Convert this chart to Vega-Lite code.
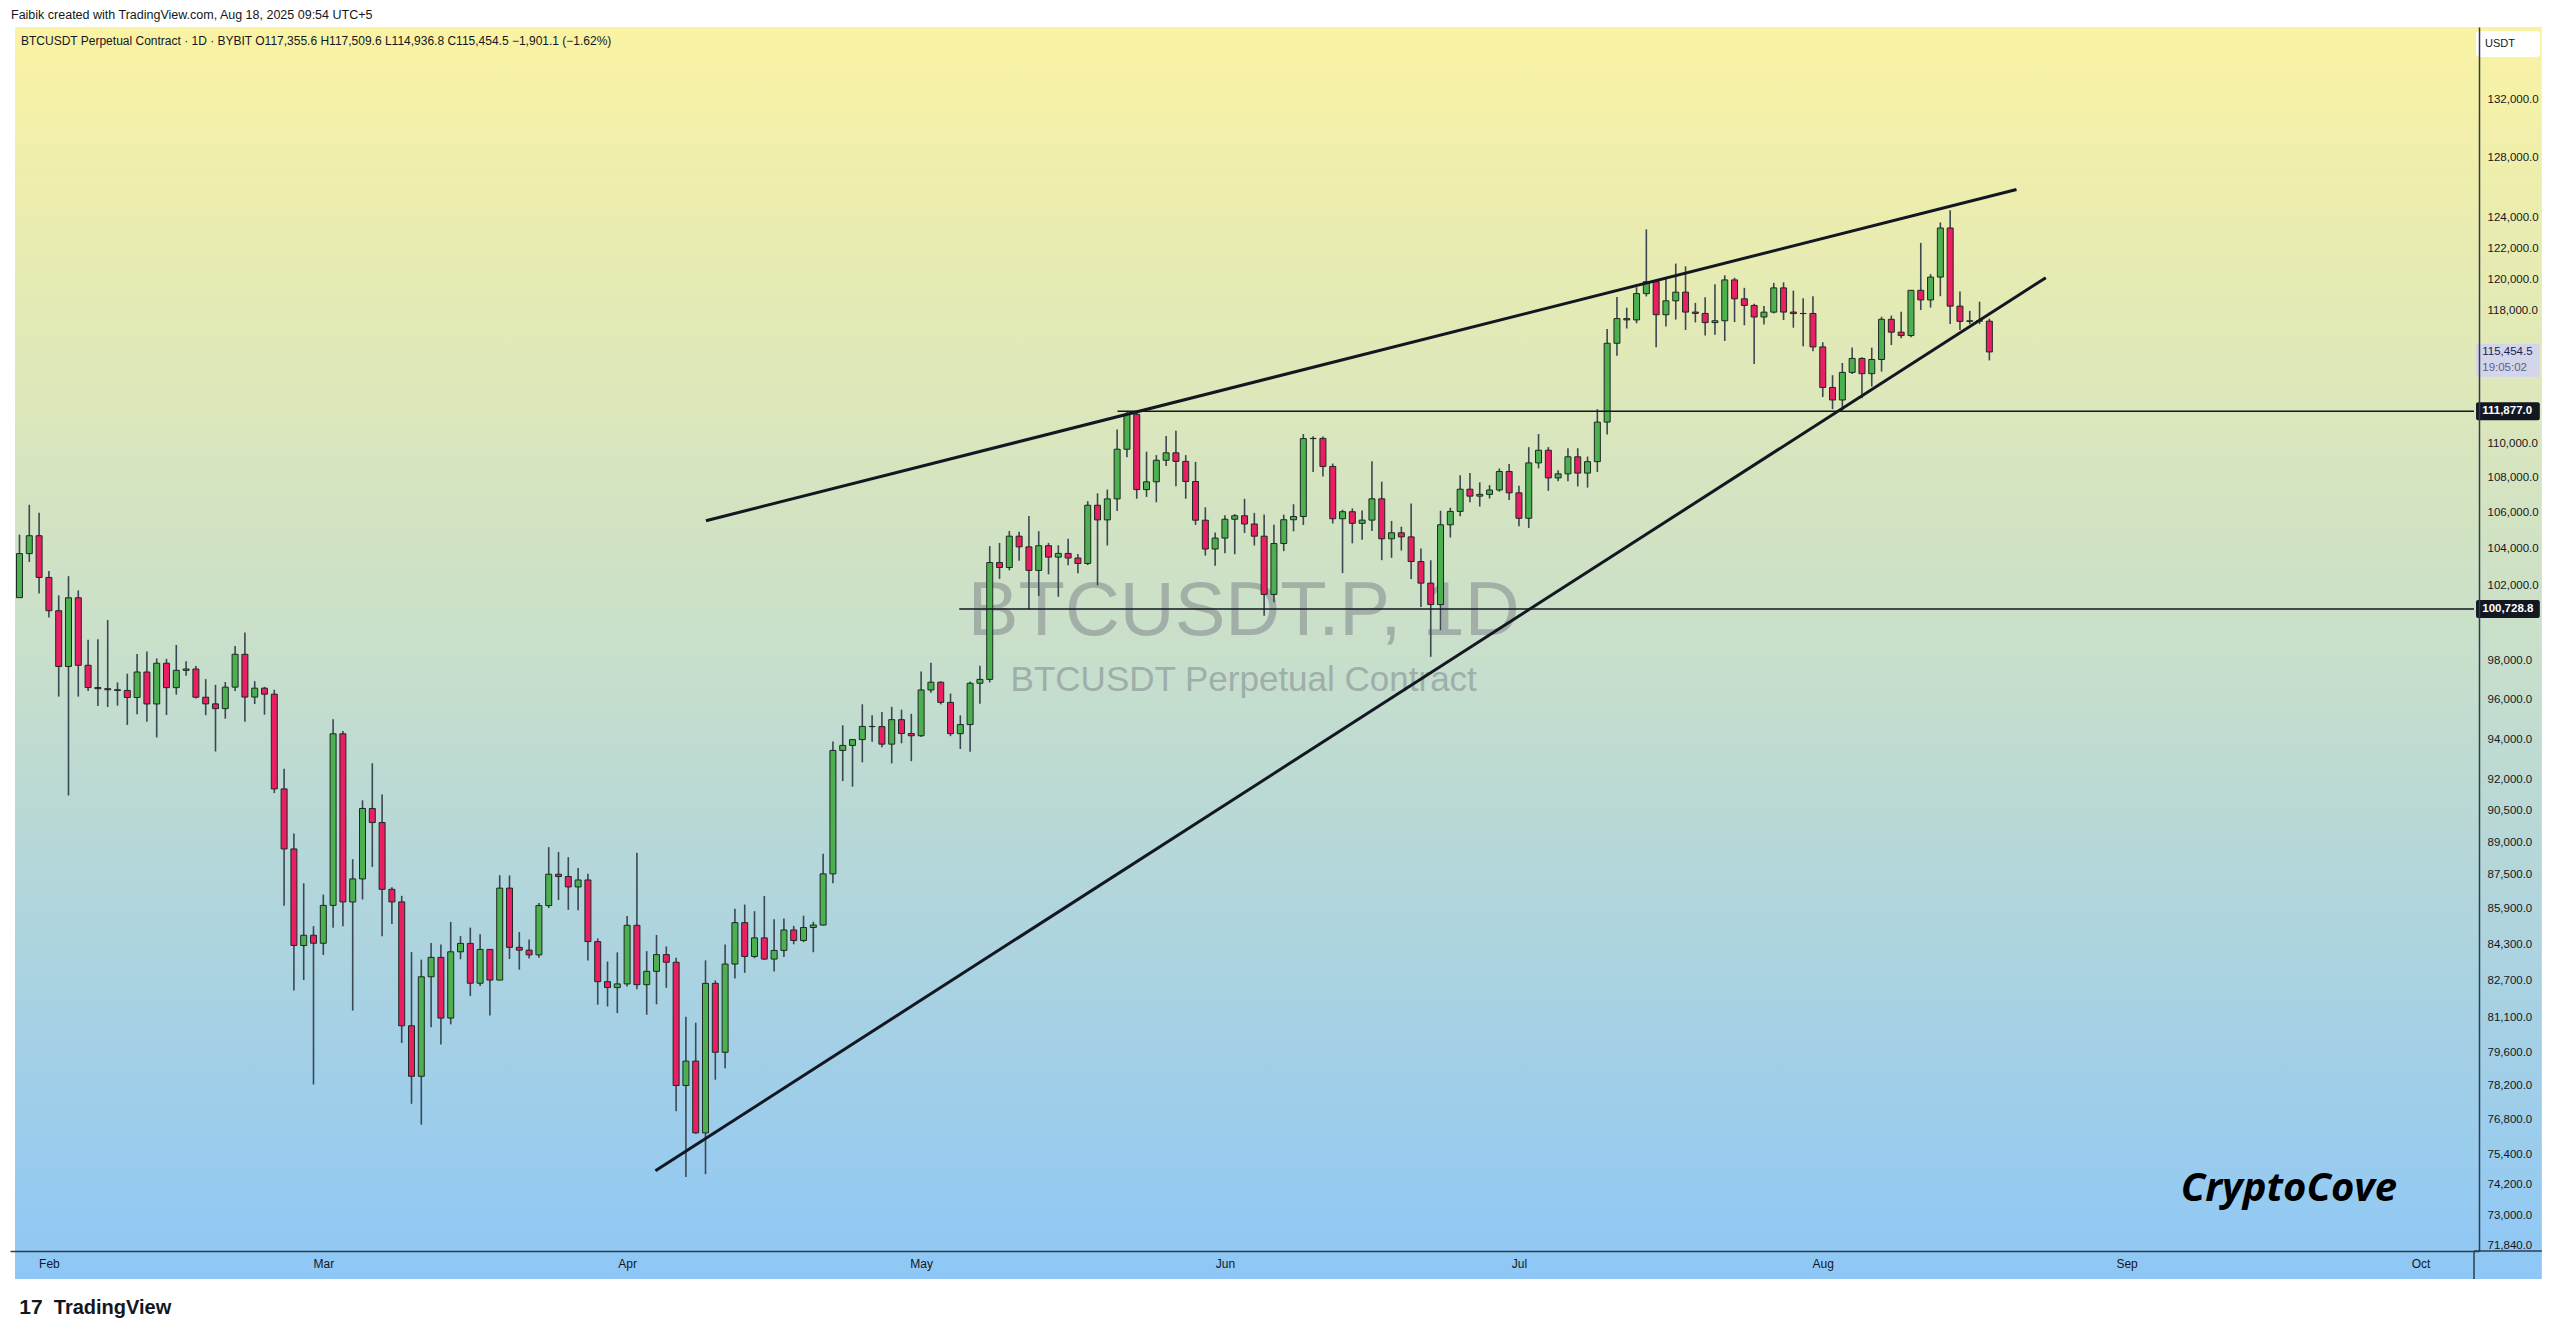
{
  "$schema": "https://vega.github.io/schema/vega-lite/v6.json",
  "width": 2469,
  "height": 1224,
  "autosize": {"type": "none"},
  "padding": {"left": 10, "top": 27, "right": 81, "bottom": 88},
  "background": "#ffffff",
  "title": {"text": "Faibik created with TradingView.com, Aug 18, 2025 09:54 UTC+5", "anchor": "start", "frame": "group", "fontSize": 12.5, "fontWeight": "normal", "color": "#131722", "offset": 6, "dx": 1},
  "datasets": {
    "candles": [
      {"d":"2025-01-29","o":101335,"h":104782,"l":101328,"c":103733},
      {"d":"2025-01-30","o":103733,"h":106457,"l":103278,"c":104722},
      {"d":"2025-01-31","o":104722,"h":106012,"l":101560,"c":102429},
      {"d":"2025-02-01","o":102429,"h":102783,"l":100279,"c":100635},
      {"d":"2025-02-02","o":100635,"h":101456,"l":96150,"c":97700},
      {"d":"2025-02-03","o":97700,"h":102500,"l":91231,"c":101328},
      {"d":"2025-02-04","o":101328,"h":101729,"l":96150,"c":97763},
      {"d":"2025-02-05","o":97763,"h":99100,"l":96431,"c":96612},
      {"d":"2025-02-06","o":96612,"h":99120,"l":95676,"c":96555},
      {"d":"2025-02-07","o":96555,"h":100137,"l":95620,"c":96500},
      {"d":"2025-02-08","o":96500,"h":96880,"l":95688,"c":96465},
      {"d":"2025-02-09","o":96465,"h":97323,"l":94713,"c":96104},
      {"d":"2025-02-10","o":96104,"h":98345,"l":95256,"c":97413},
      {"d":"2025-02-11","o":97413,"h":98478,"l":94876,"c":95776},
      {"d":"2025-02-12","o":95776,"h":98119,"l":94088,"c":97870},
      {"d":"2025-02-13","o":97870,"h":98095,"l":95217,"c":96608},
      {"d":"2025-02-14","o":96608,"h":98826,"l":96252,"c":97500},
      {"d":"2025-02-15","o":97500,"h":97972,"l":97223,"c":97569},
      {"d":"2025-02-16","o":97569,"h":97725,"l":96053,"c":96118},
      {"d":"2025-02-17","o":96118,"h":97046,"l":95205,"c":95780},
      {"d":"2025-02-18","o":95780,"h":96753,"l":93388,"c":95539},
      {"d":"2025-02-19","o":95539,"h":96899,"l":95030,"c":96635},
      {"d":"2025-02-20","o":96635,"h":98766,"l":96437,"c":98334},
      {"d":"2025-02-21","o":98334,"h":99475,"l":94871,"c":96126},
      {"d":"2025-02-22","o":96126,"h":96943,"l":95771,"c":96581},
      {"d":"2025-02-23","o":96581,"h":96650,"l":95229,"c":96274},
      {"d":"2025-02-24","o":96274,"h":96500,"l":91349,"c":91552},
      {"d":"2025-02-25","o":91552,"h":92541,"l":86050,"c":88680},
      {"d":"2025-02-26","o":88680,"h":89414,"l":82256,"c":84250},
      {"d":"2025-02-27","o":84250,"h":87078,"l":82716,"c":84708},
      {"d":"2025-02-28","o":84708,"h":85121,"l":78258,"c":84350},
      {"d":"2025-03-01","o":84350,"h":86558,"l":83824,"c":86064},
      {"d":"2025-03-02","o":86064,"h":95000,"l":85050,"c":94270},
      {"d":"2025-03-03","o":94270,"h":94416,"l":85117,"c":86220},
      {"d":"2025-03-04","o":86220,"h":88200,"l":81390,"c":87282},
      {"d":"2025-03-05","o":87282,"h":91000,"l":86335,"c":90606},
      {"d":"2025-03-06","o":90606,"h":92810,"l":87836,"c":89931},
      {"d":"2025-03-07","o":89931,"h":91283,"l":84667,"c":86801},
      {"d":"2025-03-08","o":86801,"h":86897,"l":85218,"c":86222},
      {"d":"2025-03-09","o":86222,"h":86500,"l":80000,"c":80735},
      {"d":"2025-03-10","o":80735,"h":83955,"l":77459,"c":78600},
      {"d":"2025-03-11","o":78600,"h":83617,"l":76606,"c":82862},
      {"d":"2025-03-12","o":82862,"h":84359,"l":80667,"c":83722},
      {"d":"2025-03-13","o":83722,"h":84300,"l":79939,"c":81066},
      {"d":"2025-03-14","o":81066,"h":85310,"l":80797,"c":83969},
      {"d":"2025-03-15","o":83969,"h":84672,"l":83639,"c":84343},
      {"d":"2025-03-16","o":84343,"h":85053,"l":82017,"c":82579},
      {"d":"2025-03-17","o":82579,"h":84757,"l":82457,"c":84075},
      {"d":"2025-03-18","o":84075,"h":84075,"l":81180,"c":82718},
      {"d":"2025-03-19","o":82718,"h":87454,"l":82715,"c":86854},
      {"d":"2025-03-20","o":86854,"h":87443,"l":83647,"c":84167},
      {"d":"2025-03-21","o":84167,"h":84850,"l":83175,"c":84043},
      {"d":"2025-03-22","o":84043,"h":84513,"l":83674,"c":83832},
      {"d":"2025-03-23","o":83832,"h":86176,"l":83702,"c":86054},
      {"d":"2025-03-24","o":86054,"h":88765,"l":85942,"c":87498},
      {"d":"2025-03-25","o":87498,"h":88542,"l":86310,"c":87392},
      {"d":"2025-03-26","o":87392,"h":88292,"l":85860,"c":86910},
      {"d":"2025-03-27","o":86910,"h":87786,"l":85837,"c":87232},
      {"d":"2025-03-28","o":87232,"h":87515,"l":83585,"c":84424},
      {"d":"2025-03-29","o":84424,"h":84567,"l":81644,"c":82648},
      {"d":"2025-03-30","o":82648,"h":83534,"l":81565,"c":82390},
      {"d":"2025-03-31","o":82390,"h":83943,"l":81278,"c":82550},
      {"d":"2025-04-01","o":82550,"h":85579,"l":82432,"c":85158},
      {"d":"2025-04-02","o":85158,"h":88500,"l":82320,"c":82516},
      {"d":"2025-04-03","o":82516,"h":83998,"l":81211,"c":83102},
      {"d":"2025-04-04","o":83102,"h":84720,"l":81659,"c":83843},
      {"d":"2025-04-05","o":83843,"h":84207,"l":82377,"c":83504},
      {"d":"2025-04-06","o":83504,"h":83704,"l":77153,"c":78214},
      {"d":"2025-04-07","o":78214,"h":81119,"l":74508,"c":79235},
      {"d":"2025-04-08","o":79235,"h":80867,"l":76239,"c":76272},
      {"d":"2025-04-09","o":76272,"h":83588,"l":74620,"c":82574},
      {"d":"2025-04-10","o":82574,"h":82700,"l":78456,"c":79607},
      {"d":"2025-04-11","o":79607,"h":84300,"l":78936,"c":83424},
      {"d":"2025-04-12","o":83424,"h":85905,"l":82792,"c":85277},
      {"d":"2025-04-13","o":85277,"h":86100,"l":83034,"c":83760},
      {"d":"2025-04-14","o":83760,"h":85799,"l":83679,"c":84592},
      {"d":"2025-04-15","o":84592,"h":86496,"l":83600,"c":83644},
      {"d":"2025-04-16","o":83644,"h":85429,"l":83100,"c":84030},
      {"d":"2025-04-17","o":84030,"h":85470,"l":83736,"c":84947},
      {"d":"2025-04-18","o":84947,"h":85132,"l":84303,"c":84474},
      {"d":"2025-04-19","o":84474,"h":85595,"l":84400,"c":85057},
      {"d":"2025-04-20","o":85057,"h":85320,"l":83949,"c":85170},
      {"d":"2025-04-21","o":85170,"h":88460,"l":85144,"c":87516},
      {"d":"2025-04-22","o":87516,"h":93888,"l":87076,"c":93442},
      {"d":"2025-04-23","o":93442,"h":94696,"l":91935,"c":93691},
      {"d":"2025-04-24","o":93691,"h":94000,"l":91660,"c":93980},
      {"d":"2025-04-25","o":93980,"h":95758,"l":92855,"c":94638},
      {"d":"2025-04-26","o":94638,"h":95199,"l":93870,"c":94630},
      {"d":"2025-04-27","o":94630,"h":95369,"l":93602,"c":93754},
      {"d":"2025-04-28","o":93754,"h":95630,"l":92800,"c":94981},
      {"d":"2025-04-29","o":94981,"h":95485,"l":93796,"c":94284},
      {"d":"2025-04-30","o":94284,"h":95275,"l":92910,"c":94172},
      {"d":"2025-05-01","o":94172,"h":97438,"l":94111,"c":96489},
      {"d":"2025-05-02","o":96489,"h":97895,"l":96350,"c":96887},
      {"d":"2025-05-03","o":96887,"h":96935,"l":95753,"c":95856},
      {"d":"2025-05-04","o":95856,"h":96304,"l":94151,"c":94277},
      {"d":"2025-05-05","o":94277,"h":95199,"l":93514,"c":94733},
      {"d":"2025-05-06","o":94733,"h":96920,"l":93377,"c":96834},
      {"d":"2025-05-07","o":96834,"h":97732,"l":95784,"c":97032},
      {"d":"2025-05-08","o":97032,"h":104145,"l":96876,"c":103241},
      {"d":"2025-05-09","o":103241,"h":104324,"l":102350,"c":102971},
      {"d":"2025-05-10","o":102971,"h":104984,"l":102818,"c":104696},
      {"d":"2025-05-11","o":104696,"h":104937,"l":103346,"c":104106},
      {"d":"2025-05-12","o":104106,"h":105819,"l":100719,"c":102812},
      {"d":"2025-05-13","o":102812,"h":104976,"l":101429,"c":104169},
      {"d":"2025-05-14","o":104169,"h":104324,"l":102602,"c":103539},
      {"d":"2025-05-15","o":103539,"h":104192,"l":101383,"c":103744},
      {"d":"2025-05-16","o":103744,"h":104550,"l":103100,"c":103489},
      {"d":"2025-05-17","o":103489,"h":103716,"l":102659,"c":103191},
      {"d":"2025-05-18","o":103191,"h":106660,"l":103105,"c":106430},
      {"d":"2025-05-19","o":106430,"h":107108,"l":102000,"c":105607},
      {"d":"2025-05-20","o":105607,"h":107320,"l":104184,"c":106791},
      {"d":"2025-05-21","o":106791,"h":110797,"l":106100,"c":109643},
      {"d":"2025-05-22","o":109643,"h":111877,"l":109178,"c":111696},
      {"d":"2025-05-23","o":111696,"h":111800,"l":106800,"c":107318},
      {"d":"2025-05-24","o":107318,"h":109500,"l":106900,"c":107762},
      {"d":"2025-05-25","o":107762,"h":109300,"l":106600,"c":109004},
      {"d":"2025-05-26","o":109004,"h":110422,"l":108670,"c":109434},
      {"d":"2025-05-27","o":109434,"h":110718,"l":107516,"c":108938},
      {"d":"2025-05-28","o":108938,"h":109300,"l":106800,"c":107781},
      {"d":"2025-05-29","o":107781,"h":108910,"l":105322,"c":105589},
      {"d":"2025-05-30","o":105589,"h":106313,"l":103621,"c":103985},
      {"d":"2025-05-31","o":103985,"h":104900,"l":103068,"c":104591},
      {"d":"2025-06-01","o":104591,"h":105866,"l":103752,"c":105642},
      {"d":"2025-06-02","o":105642,"h":105935,"l":103700,"c":105837},
      {"d":"2025-06-03","o":105837,"h":106794,"l":104872,"c":105377},
      {"d":"2025-06-04","o":105377,"h":106000,"l":104179,"c":104696},
      {"d":"2025-06-05","o":104696,"h":105909,"l":100372,"c":101509},
      {"d":"2025-06-06","o":101509,"h":105333,"l":101095,"c":104289},
      {"d":"2025-06-07","o":104289,"h":105900,"l":103871,"c":105615},
      {"d":"2025-06-08","o":105615,"h":106488,"l":104964,"c":105794},
      {"d":"2025-06-09","o":105794,"h":110530,"l":105318,"c":110263},
      {"d":"2025-06-10","o":110263,"h":110400,"l":108331,"c":110274},
      {"d":"2025-06-11","o":110274,"h":110392,"l":108064,"c":108645},
      {"d":"2025-06-12","o":108645,"h":108813,"l":105400,"c":105671},
      {"d":"2025-06-13","o":105671,"h":106179,"l":102664,"c":106066},
      {"d":"2025-06-14","o":106066,"h":106252,"l":104300,"c":105414},
      {"d":"2025-06-15","o":105414,"h":106128,"l":104494,"c":105594},
      {"d":"2025-06-16","o":105594,"h":108952,"l":104980,"c":106794},
      {"d":"2025-06-17","o":106794,"h":107771,"l":103371,"c":104551},
      {"d":"2025-06-18","o":104551,"h":105550,"l":103500,"c":104886},
      {"d":"2025-06-19","o":104886,"h":105226,"l":103900,"c":104658},
      {"d":"2025-06-20","o":104658,"h":106524,"l":102345,"c":103297},
      {"d":"2025-06-21","o":103297,"h":104010,"l":100837,"c":102120},
      {"d":"2025-06-22","o":102120,"h":103366,"l":98200,"c":100963},
      {"d":"2025-06-23","o":100963,"h":106122,"l":99600,"c":105333},
      {"d":"2025-06-24","o":105333,"h":106290,"l":104622,"c":106083},
      {"d":"2025-06-25","o":106083,"h":108135,"l":105808,"c":107340},
      {"d":"2025-06-26","o":107340,"h":108272,"l":106600,"c":106947},
      {"d":"2025-06-27","o":106947,"h":107735,"l":106356,"c":107047},
      {"d":"2025-06-28","o":107047,"h":107577,"l":106811,"c":107296},
      {"d":"2025-06-29","o":107296,"h":108528,"l":107200,"c":108356},
      {"d":"2025-06-30","o":108356,"h":108789,"l":106733,"c":107135},
      {"d":"2025-07-01","o":107135,"h":107540,"l":105250,"c":105698},
      {"d":"2025-07-02","o":105698,"h":109763,"l":105157,"c":108850},
      {"d":"2025-07-03","o":108850,"h":110529,"l":108530,"c":109584},
      {"d":"2025-07-04","o":109584,"h":109767,"l":107245,"c":107985},
      {"d":"2025-07-05","o":107985,"h":108420,"l":107800,"c":108220},
      {"d":"2025-07-06","o":108220,"h":109700,"l":107800,"c":109203},
      {"d":"2025-07-07","o":109203,"h":109700,"l":107500,"c":108262},
      {"d":"2025-07-08","o":108262,"h":109216,"l":107429,"c":108922},
      {"d":"2025-07-09","o":108922,"h":111999,"l":108324,"c":111233},
      {"d":"2025-07-10","o":111233,"h":116868,"l":110500,"c":115987},
      {"d":"2025-07-11","o":115987,"h":118869,"l":115222,"c":117516},
      {"d":"2025-07-12","o":117516,"h":118200,"l":116900,"c":117435},
      {"d":"2025-07-13","o":117435,"h":119488,"l":117224,"c":119086},
      {"d":"2025-07-14","o":119086,"h":123218,"l":118905,"c":119841},
      {"d":"2025-07-15","o":119841,"h":119940,"l":115736,"c":117758},
      {"d":"2025-07-16","o":117758,"h":120063,"l":117017,"c":118630},
      {"d":"2025-07-17","o":118630,"h":120998,"l":117453,"c":119177},
      {"d":"2025-07-18","o":119177,"h":120820,"l":116812,"c":117924},
      {"d":"2025-07-19","o":117924,"h":118499,"l":117277,"c":117840},
      {"d":"2025-07-20","o":117840,"h":118856,"l":116467,"c":117265},
      {"d":"2025-07-21","o":117265,"h":119676,"l":116515,"c":117380},
      {"d":"2025-07-22","o":117380,"h":120247,"l":116128,"c":119954},
      {"d":"2025-07-23","o":119954,"h":120090,"l":117301,"c":118756},
      {"d":"2025-07-24","o":118756,"h":119450,"l":117103,"c":118340},
      {"d":"2025-07-25","o":118340,"h":118451,"l":114723,"c":117614},
      {"d":"2025-07-26","o":117614,"h":118300,"l":117151,"c":117920},
      {"d":"2025-07-27","o":117920,"h":119766,"l":117840,"c":119448},
      {"d":"2025-07-28","o":119448,"h":119800,"l":117427,"c":117924},
      {"d":"2025-07-29","o":117924,"h":119273,"l":116950,"c":117831},
      {"d":"2025-07-30","o":117831,"h":118792,"l":115796,"c":117837},
      {"d":"2025-07-31","o":117837,"h":118922,"l":115500,"c":115764},
      {"d":"2025-08-01","o":115764,"h":116052,"l":112722,"c":113298},
      {"d":"2025-08-02","o":113298,"h":114036,"l":112000,"c":112546},
      {"d":"2025-08-03","o":112546,"h":114777,"l":111920,"c":114208},
      {"d":"2025-08-04","o":114208,"h":115720,"l":114103,"c":115055},
      {"d":"2025-08-05","o":115055,"h":115127,"l":112650,"c":114129},
      {"d":"2025-08-06","o":114129,"h":115716,"l":113356,"c":114992},
      {"d":"2025-08-07","o":114992,"h":117632,"l":114259,"c":117472},
      {"d":"2025-08-08","o":117472,"h":117700,"l":115878,"c":116674},
      {"d":"2025-08-09","o":116674,"h":117943,"l":116299,"c":116462},
      {"d":"2025-08-10","o":116462,"h":119311,"l":116353,"c":119294},
      {"d":"2025-08-11","o":119294,"h":122335,"l":118050,"c":118686},
      {"d":"2025-08-12","o":118686,"h":120324,"l":118207,"c":120134},
      {"d":"2025-08-13","o":120134,"h":123667,"l":118920,"c":123306},
      {"d":"2025-08-14","o":123306,"h":124474,"l":117180,"c":118295},
      {"d":"2025-08-15","o":118295,"h":119216,"l":116803,"c":117342},
      {"d":"2025-08-16","o":117342,"h":117999,"l":117172,"c":117380},
      {"d":"2025-08-17","o":117380,"h":118575,"l":117172,"c":117355.6},
      {"d":"2025-08-18","o":117355.6,"h":117509.6,"l":114936.8,"c":115454.5}
    ],
    "lines": [
      {"k":"trend","id":"upper","d":"2025-04-09T01:00:00Z","p":105560},
      {"k":"trend","id":"upper","d":"2025-08-20T18:30:00Z","p":125856},
      {"k":"trend","id":"lower","d":"2025-04-03T21:20:00Z","p":74757},
      {"k":"trend","id":"lower","d":"2025-08-23T18:15:00Z","p":120098},
      {"k":"level","id":"r1","d":"2025-05-21T01:00:00Z","p":111877},
      {"k":"level","id":"r1","d":"2025-10-06T10:50:00Z","p":111877},
      {"k":"level","id":"r2","d":"2025-05-04T21:20:00Z","p":100728.8},
      {"k":"level","id":"r2","d":"2025-10-06T10:50:00Z","p":100728.8}
    ]
  },
  "layer": [
    {
      "data": {"values": [{}]},
      "mark": {"type": "rect", "fill": {"gradient": "linear", "x1": 0, "y1": 0, "x2": 0, "y2": 1, "stops": [{"offset": 0, "color": "#FAF3A3"}, {"offset": 0.5, "color": "#C8DFCB"}, {"offset": 1, "color": "#8EC7F6"}]}},
      "encoding": {
        "x": {"datum": {"year": 2025, "month": 1, "date": 28, "hours": 13, "utc": true}, "type": "temporal", "scale": {"type": "utc", "domain": [{"year": 2025, "month": 1, "date": 28, "hours": 13, "utc": true}, {"year": 2025, "month": 10, "date": 6, "hours": 10, "minutes": 50, "utc": true}], "nice": false}},
        "x2": {"datum": {"year": 2025, "month": 10, "date": 13, "hours": 9, "utc": true}},
        "y": {"datum": 137190, "type": "quantitative", "scale": {"type": "log", "domain": [71637, 137190], "nice": false, "zero": false}},
        "y2": {"datum": 70580}
      }
    },
    {
      "data": {"values": [{}]},
      "mark": {"type": "rule", "color": "#2F3E4E", "strokeWidth": 1.5},
      "encoding": {
        "x": {"datum": {"year": 2025, "month": 10, "date": 6, "hours": 10, "minutes": 50, "utc": true}, "type": "temporal", "scale": {"type": "utc", "domain": [{"year": 2025, "month": 1, "date": 28, "hours": 13, "utc": true}, {"year": 2025, "month": 10, "date": 6, "hours": 10, "minutes": 50, "utc": true}], "nice": false}},
        "y": {"datum": 71637, "type": "quantitative", "scale": {"type": "log", "domain": [71637, 137190], "nice": false, "zero": false}},
        "y2": {"datum": 70580}
      }
    },
    {
      "data": {"values": [{}]},
      "mark": {"type": "rule", "color": "#2F3E4E", "strokeWidth": 1.5},
      "encoding": {
        "x": {"datum": {"year": 2025, "month": 10, "date": 6, "hours": 10, "minutes": 50, "utc": true}, "type": "temporal", "scale": {"type": "utc", "domain": [{"year": 2025, "month": 1, "date": 28, "hours": 13, "utc": true}, {"year": 2025, "month": 10, "date": 6, "hours": 10, "minutes": 50, "utc": true}], "nice": false}},
        "x2": {"datum": {"year": 2025, "month": 10, "date": 13, "hours": 9, "utc": true}},
        "y": {"datum": 71637, "type": "quantitative", "scale": {"type": "log", "domain": [71637, 137190], "nice": false, "zero": false}}
      }
    },
    {
      "data": {"values": [{}]},
      "mark": {"type": "text", "text": "BTCUSDT.P, 1D", "font": "Liberation Sans", "fontSize": 76, "fill": "#7A8088", "opacity": 0.5, "align": "center", "baseline": "middle"},
      "encoding": {
        "x": {"datum": {"year": 2025, "month": 6, "date": 2, "hours": 22, "utc": true}, "type": "temporal", "scale": {"type": "utc", "domain": [{"year": 2025, "month": 1, "date": 28, "hours": 13, "utc": true}, {"year": 2025, "month": 10, "date": 6, "hours": 10, "minutes": 50, "utc": true}], "nice": false}},
        "y": {"datum": 100570, "type": "quantitative", "scale": {"type": "log", "domain": [71637, 137190], "nice": false, "zero": false}}
      }
    },
    {
      "data": {"values": [{}]},
      "mark": {"type": "text", "text": "BTCUSDT Perpetual Contract", "font": "Liberation Sans", "fontSize": 35, "fill": "#7A8088", "opacity": 0.5, "align": "center", "baseline": "middle"},
      "encoding": {
        "x": {"datum": {"year": 2025, "month": 6, "date": 2, "hours": 22, "utc": true}, "type": "temporal", "scale": {"type": "utc", "domain": [{"year": 2025, "month": 1, "date": 28, "hours": 13, "utc": true}, {"year": 2025, "month": 10, "date": 6, "hours": 10, "minutes": 50, "utc": true}], "nice": false}},
        "y": {"datum": 97010, "type": "quantitative", "scale": {"type": "log", "domain": [71637, 137190], "nice": false, "zero": false}}
      }
    },
    {
      "data": {"name": "candles"},
      "mark": {"type": "rule", "color": "#3B4752", "strokeWidth": 1.6},
      "encoding": {
        "x": {"field": "d", "type": "temporal", "scale": {"type": "utc", "domain": [{"year": 2025, "month": 1, "date": 28, "hours": 13, "utc": true}, {"year": 2025, "month": 10, "date": 6, "hours": 10, "minutes": 50, "utc": true}], "nice": false}},
        "y": {"field": "l", "type": "quantitative", "scale": {"type": "log", "domain": [71637, 137190], "nice": false, "zero": false}},
        "y2": {"field": "h"}
      }
    },
    {
      "data": {"name": "candles"},
      "mark": {"type": "bar", "width": 6, "stroke": "#1D2B22", "strokeWidth": 1},
      "encoding": {
        "x": {"field": "d", "type": "temporal", "scale": {"type": "utc", "domain": [{"year": 2025, "month": 1, "date": 28, "hours": 13, "utc": true}, {"year": 2025, "month": 10, "date": 6, "hours": 10, "minutes": 50, "utc": true}], "nice": false},
          "axis": {"values": [{"year": 2025, "month": 2, "date": 1, "utc": true}, {"year": 2025, "month": 3, "date": 1, "utc": true}, {"year": 2025, "month": 4, "date": 1, "utc": true}, {"year": 2025, "month": 5, "date": 1, "utc": true}, {"year": 2025, "month": 6, "date": 1, "utc": true}, {"year": 2025, "month": 7, "date": 1, "utc": true}, {"year": 2025, "month": 8, "date": 1, "utc": true}, {"year": 2025, "month": 9, "date": 1, "utc": true}, {"year": 2025, "month": 10, "date": 1, "utc": true}],
            "format": "%b", "title": null, "ticks": false, "grid": false, "domain": true, "domainColor": "#2F3E4E", "domainWidth": 1.5, "labelPadding": 7, "labelFontSize": 12, "labelColor": "#131722", "labelFont": "Liberation Sans", "labelOverlap": false, "labelFlush": false, "zindex": 1}},
        "y": {"field": "o", "type": "quantitative", "scale": {"type": "log", "domain": [71637, 137190], "nice": false, "zero": false},
          "axis": {"orient": "right", "values": [132000, 128000, 124000, 122000, 120000, 118000, 110000, 108000, 106000, 104000, 102000, 98000, 96000, 94000, 92000, 90500, 89000, 87500, 85900, 84300, 82700, 81100, 79600, 78200, 76800, 75400, 74200, 73000, 71840],
            "format": ",.1f", "title": null, "ticks": false, "grid": false, "domain": true, "domainColor": "#2F3E4E", "domainWidth": 1.5, "labelPadding": 8, "labelFontSize": 11.5, "labelColor": "#131722", "labelFont": "Liberation Sans", "labelOverlap": false, "labelFlush": false, "labelBound": false, "zindex": 1}},
        "y2": {"field": "c"},
        "fill": {"condition": {"test": "datum.c >= datum.o", "value": "#4CAF50"}, "value": "#E91E63"}
      }
    },
    {
      "data": {"name": "lines"},
      "transform": [{"filter": "datum.k == 'trend'"}],
      "mark": {"type": "line", "color": "#131722", "strokeWidth": 3},
      "encoding": {
        "x": {"field": "d", "type": "temporal", "scale": {"type": "utc", "domain": [{"year": 2025, "month": 1, "date": 28, "hours": 13, "utc": true}, {"year": 2025, "month": 10, "date": 6, "hours": 10, "minutes": 50, "utc": true}], "nice": false}},
        "y": {"field": "p", "type": "quantitative", "scale": {"type": "log", "domain": [71637, 137190], "nice": false, "zero": false}},
        "detail": {"field": "id"}
      }
    },
    {
      "data": {"name": "lines"},
      "transform": [{"filter": "datum.k == 'level'"}],
      "mark": {"type": "line", "color": "#131722", "strokeWidth": 1.5},
      "encoding": {
        "x": {"field": "d", "type": "temporal", "scale": {"type": "utc", "domain": [{"year": 2025, "month": 1, "date": 28, "hours": 13, "utc": true}, {"year": 2025, "month": 10, "date": 6, "hours": 10, "minutes": 50, "utc": true}], "nice": false}},
        "y": {"field": "p", "type": "quantitative", "scale": {"type": "log", "domain": [71637, 137190], "nice": false, "zero": false}},
        "detail": {"field": "id"}
      }
    },
    {
      "data": {"values": [{}]},
      "mark": {"type": "text", "text": "CryptoCove", "font": "Open Sans", "fontSize": 40, "fontWeight": "bold", "fontStyle": "italic", "fill": "#000000", "align": "center", "baseline": "middle"},
      "encoding": {
        "x": {"datum": {"year": 2025, "month": 9, "date": 17, "hours": 13, "minutes": 30, "utc": true}, "type": "temporal", "scale": {"type": "utc", "domain": [{"year": 2025, "month": 1, "date": 28, "hours": 13, "utc": true}, {"year": 2025, "month": 10, "date": 6, "hours": 10, "minutes": 50, "utc": true}], "nice": false}},
        "y": {"datum": 74040, "type": "quantitative", "scale": {"type": "log", "domain": [71637, 137190], "nice": false, "zero": false}}
      }
    },
    {
      "data": {"values": [{}]},
      "mark": {"type": "rect", "fill": "#131722", "cornerRadius": 2},
      "encoding": {
        "x": {"datum": {"year": 2025, "month": 10, "date": 6, "hours": 15, "minutes": 50, "utc": true}, "type": "temporal", "scale": {"type": "utc", "domain": [{"year": 2025, "month": 1, "date": 28, "hours": 13, "utc": true}, {"year": 2025, "month": 10, "date": 6, "hours": 10, "minutes": 50, "utc": true}], "nice": false}},
        "x2": {"datum": {"year": 2025, "month": 10, "date": 13, "hours": 4, "utc": true}},
        "y": {"datum": 112413, "type": "quantitative", "scale": {"type": "log", "domain": [71637, 137190], "nice": false, "zero": false}},
        "y2": {"datum": 111344}
      }
    },
    {
      "data": {"values": [{}]},
      "mark": {"type": "text", "text": "111,877.0", "font": "Liberation Sans", "fontSize": 11.5, "fontWeight": "bold", "fill": "#ffffff", "align": "left", "baseline": "middle"},
      "encoding": {
        "x": {"datum": {"year": 2025, "month": 10, "date": 7, "hours": 7, "utc": true}, "type": "temporal", "scale": {"type": "utc", "domain": [{"year": 2025, "month": 1, "date": 28, "hours": 13, "utc": true}, {"year": 2025, "month": 10, "date": 6, "hours": 10, "minutes": 50, "utc": true}], "nice": false}},
        "y": {"datum": 111877, "type": "quantitative", "scale": {"type": "log", "domain": [71637, 137190], "nice": false, "zero": false}}
      }
    },
    {
      "data": {"values": [{}]},
      "mark": {"type": "rect", "fill": "#131722", "cornerRadius": 2},
      "encoding": {
        "x": {"datum": {"year": 2025, "month": 10, "date": 6, "hours": 15, "minutes": 50, "utc": true}, "type": "temporal", "scale": {"type": "utc", "domain": [{"year": 2025, "month": 1, "date": 28, "hours": 13, "utc": true}, {"year": 2025, "month": 10, "date": 6, "hours": 10, "minutes": 50, "utc": true}], "nice": false}},
        "x2": {"datum": {"year": 2025, "month": 10, "date": 13, "hours": 4, "utc": true}},
        "y": {"datum": 101211, "type": "quantitative", "scale": {"type": "log", "domain": [71637, 137190], "nice": false, "zero": false}},
        "y2": {"datum": 100249}
      }
    },
    {
      "data": {"values": [{}]},
      "mark": {"type": "text", "text": "100,728.8", "font": "Liberation Sans", "fontSize": 11.5, "fontWeight": "bold", "fill": "#ffffff", "align": "left", "baseline": "middle"},
      "encoding": {
        "x": {"datum": {"year": 2025, "month": 10, "date": 7, "hours": 7, "utc": true}, "type": "temporal", "scale": {"type": "utc", "domain": [{"year": 2025, "month": 1, "date": 28, "hours": 13, "utc": true}, {"year": 2025, "month": 10, "date": 6, "hours": 10, "minutes": 50, "utc": true}], "nice": false}},
        "y": {"datum": 100728.8, "type": "quantitative", "scale": {"type": "log", "domain": [71637, 137190], "nice": false, "zero": false}}
      }
    },
    {
      "data": {"values": [{}]},
      "mark": {"type": "rect", "fill": "#D3D5EA", "cornerRadius": 2},
      "encoding": {
        "x": {"datum": {"year": 2025, "month": 10, "date": 6, "hours": 15, "minutes": 50, "utc": true}, "type": "temporal", "scale": {"type": "utc", "domain": [{"year": 2025, "month": 1, "date": 28, "hours": 13, "utc": true}, {"year": 2025, "month": 10, "date": 6, "hours": 10, "minutes": 50, "utc": true}], "nice": false}},
        "x2": {"datum": {"year": 2025, "month": 10, "date": 13, "hours": 4, "utc": true}},
        "y": {"datum": 115940, "type": "quantitative", "scale": {"type": "log", "domain": [71637, 137190], "nice": false, "zero": false}},
        "y2": {"datum": 113930}
      }
    },
    {
      "data": {"values": [{}]},
      "mark": {"type": "text", "text": "115,454.5", "font": "Liberation Sans", "fontSize": 11.5, "fill": "#1E2251", "align": "left", "baseline": "middle"},
      "encoding": {
        "x": {"datum": {"year": 2025, "month": 10, "date": 7, "hours": 7, "utc": true}, "type": "temporal", "scale": {"type": "utc", "domain": [{"year": 2025, "month": 1, "date": 28, "hours": 13, "utc": true}, {"year": 2025, "month": 10, "date": 6, "hours": 10, "minutes": 50, "utc": true}], "nice": false}},
        "y": {"datum": 115454.5, "type": "quantitative", "scale": {"type": "log", "domain": [71637, 137190], "nice": false, "zero": false}}
      }
    },
    {
      "data": {"values": [{}]},
      "mark": {"type": "text", "text": "19:05:02", "font": "Liberation Sans", "fontSize": 11.5, "fill": "#5D6088", "align": "left", "baseline": "middle"},
      "encoding": {
        "x": {"datum": {"year": 2025, "month": 10, "date": 7, "hours": 7, "utc": true}, "type": "temporal", "scale": {"type": "utc", "domain": [{"year": 2025, "month": 1, "date": 28, "hours": 13, "utc": true}, {"year": 2025, "month": 10, "date": 6, "hours": 10, "minutes": 50, "utc": true}], "nice": false}},
        "y": {"datum": 114470, "type": "quantitative", "scale": {"type": "log", "domain": [71637, 137190], "nice": false, "zero": false}}
      }
    },
    {
      "data": {"values": [{}]},
      "mark": {"type": "rect", "fill": "#ffffff", "cornerRadius": 3},
      "encoding": {
        "x": {"datum": {"year": 2025, "month": 10, "date": 6, "hours": 15, "minutes": 50, "utc": true}, "type": "temporal", "scale": {"type": "utc", "domain": [{"year": 2025, "month": 1, "date": 28, "hours": 13, "utc": true}, {"year": 2025, "month": 10, "date": 6, "hours": 10, "minutes": 50, "utc": true}], "nice": false}},
        "x2": {"datum": {"year": 2025, "month": 10, "date": 13, "hours": 4, "utc": true}},
        "y": {"datum": 136890, "type": "quantitative", "scale": {"type": "log", "domain": [71637, 137190], "nice": false, "zero": false}},
        "y2": {"datum": 135020}
      }
    },
    {
      "data": {"values": [{}]},
      "mark": {"type": "text", "text": "USDT", "font": "Liberation Sans", "fontSize": 11, "fill": "#131722", "align": "left", "baseline": "middle"},
      "encoding": {
        "x": {"datum": {"year": 2025, "month": 10, "date": 7, "hours": 14, "utc": true}, "type": "temporal", "scale": {"type": "utc", "domain": [{"year": 2025, "month": 1, "date": 28, "hours": 13, "utc": true}, {"year": 2025, "month": 10, "date": 6, "hours": 10, "minutes": 50, "utc": true}], "nice": false}},
        "y": {"datum": 135950, "type": "quantitative", "scale": {"type": "log", "domain": [71637, 137190], "nice": false, "zero": false}}
      }
    },
    {
      "data": {"values": [{}]},
      "mark": {"type": "text", "text": "BTCUSDT Perpetual Contract · 1D · BYBIT  O117,355.6  H117,509.6  L114,936.8  C115,454.5  −1,901.1 (−1.62%)", "font": "Liberation Sans", "fontSize": 12, "fill": "#131722", "align": "left", "baseline": "middle"},
      "encoding": {
        "x": {"datum": {"year": 2025, "month": 1, "date": 29, "hours": 3, "minutes": 40, "utc": true}, "type": "temporal", "scale": {"type": "utc", "domain": [{"year": 2025, "month": 1, "date": 28, "hours": 13, "utc": true}, {"year": 2025, "month": 10, "date": 6, "hours": 10, "minutes": 50, "utc": true}], "nice": false}},
        "y": {"datum": 136170, "type": "quantitative", "scale": {"type": "log", "domain": [71637, 137190], "nice": false, "zero": false}}
      }
    },
    {
      "data": {"values": [{}]},
      "mark": {"type": "text", "text": "17", "font": "Liberation Sans", "fontSize": 21, "fontWeight": 900, "fill": "#131722", "align": "center", "baseline": "middle"},
      "encoding": {
        "x": {"datum": {"year": 2025, "month": 1, "date": 30, "hours": 4, "utc": true}, "type": "temporal", "scale": {"type": "utc", "domain": [{"year": 2025, "month": 1, "date": 28, "hours": 13, "utc": true}, {"year": 2025, "month": 10, "date": 6, "hours": 10, "minutes": 50, "utc": true}], "nice": false}},
        "y": {"datum": 69503, "type": "quantitative", "scale": {"type": "log", "domain": [71637, 137190], "nice": false, "zero": false}}
      }
    },
    {
      "data": {"values": [{}]},
      "mark": {"type": "text", "text": "TradingView", "font": "Liberation Sans", "fontSize": 20, "fontWeight": "bold", "fill": "#131722", "align": "left", "baseline": "middle"},
      "encoding": {
        "x": {"datum": {"year": 2025, "month": 2, "date": 1, "hours": 12, "utc": true}, "type": "temporal", "scale": {"type": "utc", "domain": [{"year": 2025, "month": 1, "date": 28, "hours": 13, "utc": true}, {"year": 2025, "month": 10, "date": 6, "hours": 10, "minutes": 50, "utc": true}], "nice": false}},
        "y": {"datum": 69503, "type": "quantitative", "scale": {"type": "log", "domain": [71637, 137190], "nice": false, "zero": false}}
      }
    }
  ],
  "config": {
    "font": "Liberation Sans",
    "view": {"stroke": null},
    "axis": {"zindex": 1}
  }
}
